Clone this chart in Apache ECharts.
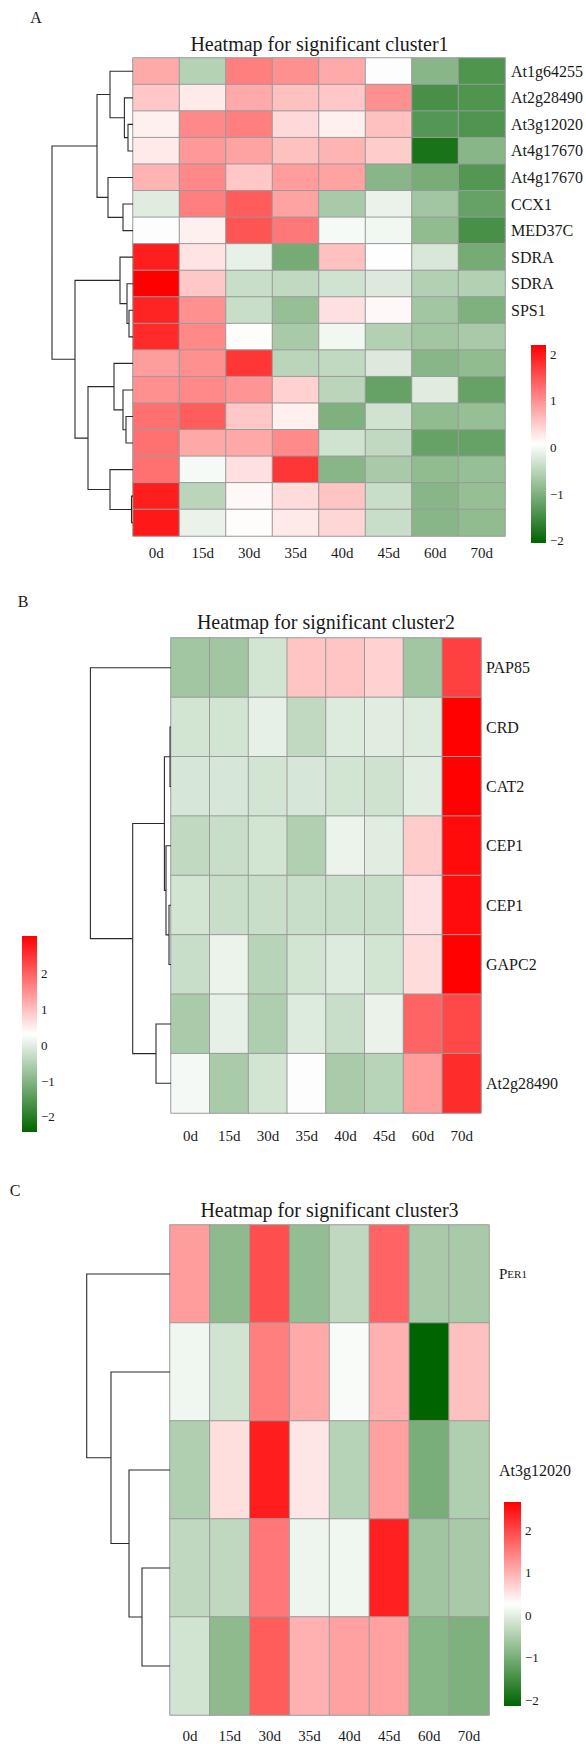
<!DOCTYPE html>
<html>
<head>
<meta charset="utf-8">
<script src="https://cdn.jsdelivr.net/npm/echarts@6/dist/echarts.min.js"></script>
<style>
  html, body { margin: 0; padding: 0; background: #fff; }
  #chart { width: 586px; height: 1744px; }
</style>
</head>
<body>
<div id="chart"></div>
<script>
// ---- data ----
const days = ["0d", "15d", "30d", "35d", "40d", "45d", "60d", "70d"];
const legendTicks = [-2, -1, 0, 1, 2];

const rowLabelsA = ["At1g64255", "At2g28490", "At3g12020", "At4g17670", "At4g17670", "CCX1", "MED37C",
  "SDRA", "SDRA", "SPS1", "", "", "", "", "", "", "", ""];
const valuesA = [
  [0.78, -0.54, 1.14, 1.0, 0.78, 0.05, -0.92, -1.39],
  [0.54, 0.25, 0.78, 0.6, 0.54, 1.0, -1.45, -1.39],
  [0.2, 1.07, 1.14, 0.39, 0.2, 0.6, -1.35, -1.39],
  [0.26, 0.93, 0.85, 0.6, 0.7, 0.5, -1.84, -0.92],
  [0.7, 1.07, 0.54, 0.9, 0.85, -0.92, -1.05, -1.35],
  [-0.18, 1.14, 1.43, 0.85, -0.65, -0.1, -0.7, -1.2],
  [0.05, 0.2, 1.5, 1.2, 0.0, -0.04, -0.85, -1.45],
  [1.95, 0.3, -0.12, -1.07, 0.6, 0.08, -0.25, -1.07],
  [2.2, 0.54, -0.38, -0.45, -0.32, -0.22, -0.57, -0.57],
  [1.9, 1.0, -0.38, -0.8, 0.33, 0.13, -0.7, -1.0],
  [1.85, 1.07, 0.1, -0.65, -0.04, -0.57, -0.7, -0.65],
  [0.9, 1.0, 1.75, -0.5, -0.45, -0.22, -0.92, -0.85],
  [1.0, 1.07, 0.97, 0.46, -0.5, -1.2, -0.18, -1.2],
  [1.27, 1.43, 0.54, 0.2, -1.0, -0.32, -0.85, -0.8],
  [1.27, 0.8, 0.8, 1.05, -0.32, -0.45, -1.2, -1.2],
  [1.27, 0.0, 0.33, 1.75, -0.92, -0.65, -0.85, -0.8],
  [1.95, -0.5, 0.13, 0.37, 0.56, -0.38, -0.92, -0.8],
  [2.0, -0.1, 0.1, 0.25, 0.42, -0.38, -0.92, -0.85]
];
const rangeA = [-2.05, 2.2];
// hclust style: negative = leaf (row number), positive = earlier merge
const mergeA = [[-17, -18], [-10, -11], [-3, -4], [-9, 2], [-14, -15], [-2, 3], [-6, -7], [-13, 5],
  [-8, 4], [-12, 8], [-1, 6], [-16, 1], [-5, 7], [11, 13], [10, 12], [9, 15], [14, 16]];
const heightA = [0.15, 0.4, 0.5, 0.6, 0.7, 0.86, 1.0, 1.0, 1.3, 1.9, 2.3, 2.3, 2.5, 3.6, 4.5, 5.8, 8.1];

const rowLabelsB = ["PAP85", "CRD", "CAT2", "CEP1", "CEP1", "GAPC2", "", "At2g28490"];
const valuesB = [
  [-0.69, -0.69, -0.17, 0.94, 0.94, 0.8, -0.69, 2.35],
  [-0.17, -0.17, 0.04, -0.36, -0.05, 0.0, -0.05, 3.03],
  [-0.12, -0.12, -0.17, -0.12, -0.17, -0.2, 0.0, 3.03],
  [-0.36, -0.27, -0.17, -0.53, 0.1, 0.0, 0.86, 2.92],
  [-0.17, -0.27, -0.27, -0.27, -0.27, -0.27, 0.64, 2.92],
  [-0.27, 0.1, -0.45, -0.17, -0.05, -0.17, 0.68, 3.03],
  [-0.6, 0.04, -0.55, -0.05, -0.27, 0.08, 1.97, 2.27],
  [0.2, -0.6, -0.17, 0.28, -0.6, -0.45, 1.37, 2.57]
];
const rangeB = [-2.42, 3.04];
const mergeB = [[-2, -3], [-5, -6], [-4, 2], [1, 3], [-7, -8], [4, 5], [-1, 6]];
const heightB = [0.1, 0.2, 0.5, 0.66, 1.5, 3.83, 8.06];

const rowLabelsC = ["PER1", "", "At3g12020", "", ""];
const valuesC = [
  [1.2, -0.8, 1.93, -0.75, -0.34, 1.74, -0.55, -0.55],
  [0.12, -0.17, 1.47, 1.08, 0.2, 1.0, -2.14, 0.86],
  [-0.48, 0.58, 2.4, 0.5, -0.41, 1.15, -1.0, -0.48],
  [-0.34, -0.34, 1.55, 0.1, 0.12, 2.36, -0.63, -0.55],
  [-0.17, -0.8, 1.8, 1.0, 1.15, 1.15, -0.87, -0.94]
];
const rangeC = [-2.14, 2.67];
const mergeC = [[-4, -5], [-3, 1], [-2, 2], [-1, 3]];
const heightC = [2.8, 4.1, 5.9, 8.33];

// ---- styling ----
const serif = '"Liberation Serif", "Times New Roman", serif';
const ink = "#1a1a1a";
const palette = ["#006400", "#ffffff", "#ff0000"];

const option = {
  animation: false,
  backgroundColor: "#fff",
  grid: [], xAxis: [], yAxis: [], series: [], visualMap: [], graphic: []
};

const hidden = { show: false };

function treeLinks(merges, heights) {
  const nodes = [];
  const pick = (k) => (k < 0 ? { h: 0, y: -k - 1 } : nodes[k - 1]);
  return merges.map((m, i) => {
    const a = pick(m[0]);
    const b = pick(m[1]);
    const h = heights[i];
    nodes.push({ h, y: (a.y + b.y) / 2 });
    return { coords: [[a.h, a.y], [h, a.y], [h, b.y], [b.h, b.y]] };
  });
}

function addGrid(box) {
  option.grid.push({ left: box[0], top: box[1], width: box[2], height: box[3] });
  return option.grid.length - 1;
}

function addPanel(p) {
  // heatmap
  const g = addGrid(p.heat);
  option.xAxis.push({
    type: "category", gridIndex: g, data: days,
    axisLine: hidden, axisTick: hidden, splitLine: hidden,
    axisLabel: { margin: p.xMargin, fontFamily: serif, fontSize: 15, color: ink }
  });
  option.yAxis.push({
    type: "category", gridIndex: g, inverse: true, position: "right",
    data: p.labels.map((_, i) => String(i)),
    axisLine: hidden, axisTick: hidden, splitLine: hidden,
    axisLabel: {
      interval: 0, margin: p.yMargin, fontFamily: serif, fontSize: 16, color: ink,
      formatter: (v) => {
        const t = p.labels[+v];
        if (p.smallCaps && /^[A-Z]/.test(t) && t === t.toUpperCase()) {
          return "{big|" + t[0] + "}{small|" + t.slice(1) + "}";
        }
        return t;
      },
      rich: {
        big: { fontFamily: serif, fontSize: 15, color: ink },
        small: { fontFamily: serif, fontSize: 11, color: ink }
      }
    }
  });
  const cells = [];
  p.values.forEach((row, i) => row.forEach((v, j) => cells.push([j, i, v])));
  option.series.push({
    type: "heatmap", xAxisIndex: g, yAxisIndex: g, data: cells,
    itemStyle: { borderColor: "#9a9a9a", borderWidth: 1 },
    emphasis: { disabled: true }, silent: true
  });
  option.visualMap.push({
    show: false, seriesIndex: option.series.length - 1,
    min: p.range[0], max: p.range[1], inRange: { color: palette }
  });

  // dendrogram
  const d = addGrid(p.tree);
  option.xAxis.push({ type: "value", gridIndex: d, show: false, inverse: true, min: 0, max: p.heights[p.heights.length - 1] });
  option.yAxis.push({ type: "value", gridIndex: d, show: false, inverse: true, min: -0.5, max: p.values.length - 0.5 });
  option.series.push({
    type: "lines", coordinateSystem: "cartesian2d", xAxisIndex: d, yAxisIndex: d,
    polyline: true, silent: true,
    lineStyle: { color: "#2b2b2b", width: 1.1, opacity: 1 },
    data: treeLinks(p.merges, p.heights)
  });

  // colour key
  const c = addGrid(p.key);
  option.xAxis.push({ type: "category", gridIndex: c, show: false, data: ["key"] });
  option.yAxis.push({
    type: "value", gridIndex: c, position: "right", min: p.range[0], max: p.range[1],
    axisLine: hidden, axisTick: hidden, splitLine: hidden,
    axisLabel: {
      customValues: legendTicks, margin: 4, fontFamily: serif, fontSize: 13, color: ink,
      formatter: (v) => String(v).replace("-", "\u2212")
    }
  });
  option.series.push({
    type: "custom", xAxisIndex: c, yAxisIndex: c, silent: true,
    data: [[0, p.range[0], p.range[1]]],
    renderItem: (params, api) => {
      const top = api.coord([0, api.value(2)]);
      const bottom = api.coord([0, api.value(1)]);
      const w = api.size([1, 0])[0];
      return {
        type: "rect",
        shape: { x: top[0] - w / 2, y: top[1], width: w, height: bottom[1] - top[1] },
        style: {
          fill: new echarts.graphic.LinearGradient(0, 0, 0, 1, [
            { offset: 0, color: palette[2] },
            { offset: 0.5, color: palette[1] },
            { offset: 1, color: palette[0] }
          ])
        }
      };
    }
  });

  // titles
  option.graphic.push({
    type: "text", x: p.heat[0] + p.heat[2] / 2, y: p.titleY,
    style: { text: p.title, font: "20px " + serif, fill: ink, align: "center", verticalAlign: "middle", textAlign: "center", textVerticalAlign: "middle" }
  });
  option.graphic.push({
    type: "text", x: p.letter[0], y: p.letter[1],
    style: { text: p.letterText, font: "16px " + serif, fill: ink, align: "center", verticalAlign: "middle", textAlign: "center", textVerticalAlign: "middle" }
  });
}

addPanel({
  title: "Heatmap for significant cluster1", letterText: "A", letter: [36, 17], titleY: 44,
  labels: rowLabelsA, values: valuesA, range: rangeA, merges: mergeA, heights: heightA,
  heat: [133, 58, 373, 478], tree: [52, 58, 81, 478], key: [531, 345, 15, 198],
  xMargin: 9, yMargin: 6
});
addPanel({
  title: "Heatmap for significant cluster2", letterText: "B", letter: [23, 601], titleY: 622,
  labels: rowLabelsB, values: valuesB, range: rangeB, merges: mergeB, heights: heightB,
  heat: [171, 638, 310, 475], tree: [90.4, 638, 80.6, 475], key: [22, 936, 15, 196],
  xMargin: 15, yMargin: 5
});
addPanel({
  title: "Heatmap for significant cluster3", letterText: "C", letter: [15, 1190], titleY: 1210,
  labels: rowLabelsC, values: valuesC, range: rangeC, merges: mergeC, heights: heightC,
  heat: [170, 1225, 319, 490], tree: [86.7, 1225, 83.3, 490], key: [504, 1502, 17, 204],
  xMargin: 13, yMargin: 10, smallCaps: true
});

const chart = echarts.init(document.getElementById("chart"), null, { renderer: "svg" });
chart.setOption(option);
window.addEventListener("resize", () => chart.resize());
</script>
</body>
</html>
